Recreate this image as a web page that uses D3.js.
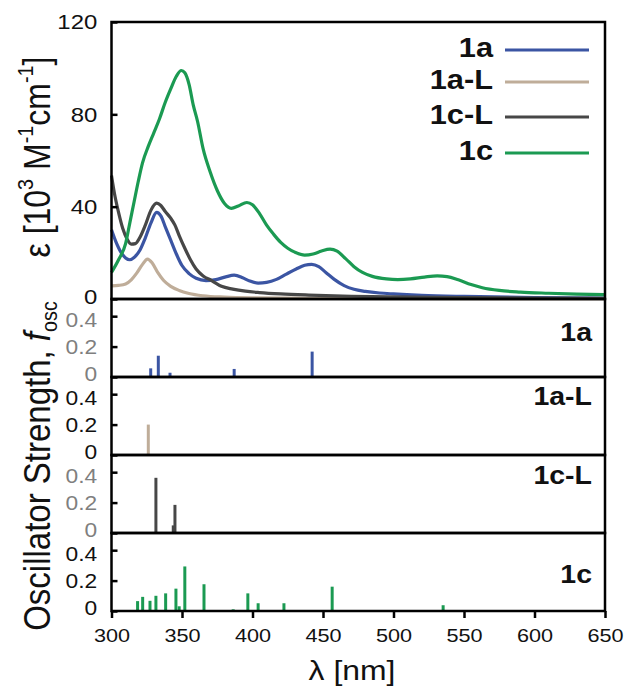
<!DOCTYPE html>
<html><head><meta charset="utf-8">
<script src="https://cdn.jsdelivr.net/npm/d3@7"></script>
<style>
body{margin:0;background:#fff;}
svg{display:block;font-family:"Liberation Sans",Arial,Helvetica,sans-serif;}
</style></head>
<body><svg id="chart" width="632" height="690"></svg>
<script>
// ---- data ----
const series = ["1a","1a-L","1c-L","1c"];
const colors = ["#3b55a3","#bfad99","#474747","#1b9a52"];

const nm_1a = [300,303,307,310,313,316,320,324,328,332,335,338,342,346,350,355,360,367,374,381,387,393,398,404,410,417,424,431,437,442,447,452,458,465,472,480,490,500,520,550,600,650];
const eps_1a = [30,25,20,17.8,17,18,21,26.5,33,37.5,36,31.5,25.5,19.5,14.5,11,9,8,8.4,9.6,10.3,9.2,7.8,6.9,7.2,8.5,10.8,13,14.6,15,14,11.5,8.5,5.8,4.2,3.3,2.6,2.2,1.6,1.1,0.6,0.4];

const nm_1aL = [300,305,310,314,318,322,325.5,329,333,337,342,348,355,365,380,400,450,650];
const eps_1aL = [5.7,5.9,6.5,8.3,11.3,15,17.3,15.5,11.3,8,5.5,3.7,2.4,1.4,0.8,0.5,0.3,0.1];

const nm_1cL = [300,302,305,308,311,314,317,320,324,328,332,335,338,342,345,348,352,356,360,365,371,378,386,395,405,420,440,470,500,550,600,650];
const eps_1cL = [53.5,46,37.5,30.5,26,23.8,24,26.5,32,38.5,41.5,40.5,38,35,32,27.5,22,17,13,10,8,5.5,4.3,3.4,2.8,2.2,1.7,1.2,0.9,0.6,0.4,0.3];

const nm_1c = [300,305,310,313,316,319,322,326,330,334,338,342,346,349.5,352,355,358,361,365,370,375,380,385,390,396,400,405,410,415,420,425,430,437,443,449,455,460,466,472,478,485,495,503,512,522,531,538,546,555,563,575,590,610,630,650];
const eps_1c = [11.5,17,24,33,42,51,59,66,72,78,85,91,96.5,99,98,93,84,77,65,55,47,41.5,39.3,40.3,41.8,40.8,37,32,28,24.5,22,20.3,19,19.5,20.8,21.6,20.7,17.5,14,11.5,9.8,8.7,8.4,8.7,9.5,10,9.7,8.3,6.3,4.9,3.7,3,2.5,2.1,1.9];

const stick_nm_1a = [327.8,333.2,341.5,387,389.5,442.3];
const stick_f_1a = [0.057,0.14,0.028,0.053,0.006,0.167];
const stick_nm_1aL = [326.1];
const stick_f_1aL = [0.2];
const stick_nm_1cL = [331.5,343.8,345];
const stick_f_1cL = [0.363,0.05,0.185];
const stick_nm_1c = [318.5,322.1,327.3,331.5,338.4,342.7,345.7,348,352,365.6,386.3,396.7,404,422.3,456.5,535.2];
const stick_f_1c = [0.065,0.093,0.067,0.1,0.116,0.005,0.147,0.031,0.293,0.176,0.011,0.116,0.051,0.051,0.16,0.038];

const xTicks = [300,350,400,450,500,550,600,650];
const epsTicks = [0,40,80,120];
const oscTicks = [0,0.2,0.4];
const oscLabelColors = ["#7f7f7f","#111","#7f7f7f","#111"];

// ---- layout ----
const SX = 1.14; // horizontal stretch of text
const svg = d3.select("#chart");
const L = 111.5, R = 605;
const x = d3.scaleLinear().domain([300,650]).range([L,R]);
const yE = d3.scaleLinear().domain([0,120]).range([299,22]);
const panelTops = [299,377,455,533];
const PH = 78;
const yS = panelTops.map(t => d3.scaleLinear().domain([0,0.513]).range([t+PH,t]));

const curves = [[nm_1a,eps_1a],[nm_1aL,eps_1aL],[nm_1cL,eps_1cL],[nm_1c,eps_1c]];
const sticks = [[stick_nm_1a,stick_f_1a],[stick_nm_1aL,stick_f_1aL],[stick_nm_1cL,stick_f_1cL],[stick_nm_1c,stick_f_1c]];

function stretch(sel){
  sel.attr("transform", "scale("+SX+",1)");
}

// curves
const line = d3.line().x(d=>x(d[0])).y(d=>yE(d[1])).curve(d3.curveMonotoneX);
const gc = svg.append("g");
curves.forEach((c,i)=>{
  const pts = c[0].map((v,j)=>[v,c[1][j]]);
  gc.append("path").attr("d",line(pts)).attr("fill","none")
    .attr("stroke",colors[i]).attr("stroke-width",3.2).attr("stroke-linejoin","round");
});

// sticks
sticks.forEach((s,i)=>{
  const g = svg.append("g");
  s[0].forEach((v,j)=>{
    g.append("line").attr("x1",x(v)).attr("x2",x(v))
      .attr("y1",yS[i](0)).attr("y2",yS[i](s[1][j]))
      .attr("stroke",colors[i]).attr("stroke-width",3);
  });
});

// left axes
const aE = svg.append("g").attr("transform","translate("+L+",0)")
  .call(d3.axisLeft(yE).tickValues(epsTicks).tickSize(-6).tickPadding(12.5).tickFormat(d3.format("d")));
aE.select(".domain").remove();
aE.selectAll(".tick line").attr("stroke","#000").attr("stroke-width",2.5);
aE.selectAll(".tick text").attr("font-size",21).attr("fill","#111").attr("font-family",null).call(stretch)
  .attr("y", d => d===0 ? -2 : 0);

yS.forEach((ys,i)=>{
  const a = svg.append("g").attr("transform","translate("+L+",0)")
    .call(d3.axisLeft(ys).tickValues(oscTicks).tickSize(-6).tickPadding(12.5).tickFormat(d=> d===0?"0":d3.format(".1f")(d)));
  a.select(".domain").remove();
  a.selectAll(".tick line").attr("stroke","#000").attr("stroke-width",2.5);
  a.selectAll(".tick text").attr("font-size",20).attr("fill",oscLabelColors[i]).attr("font-family",null).call(stretch)
    .attr("y", d => d===0 ? -3 : (d===0.4 ? 4 : 0));
});

// bottom axis
const aX = svg.append("g").attr("transform","translate(0,"+(panelTops[3]+PH)+")")
  .call(d3.axisBottom(x).tickValues(xTicks).tickSize(7).tickPadding(10.5).tickFormat(d3.format("d")));
aX.select(".domain").remove();
aX.selectAll(".tick line").attr("stroke","#000").attr("stroke-width",2.5);
aX.selectAll(".tick text").attr("font-size",19).attr("fill","#111").attr("font-family",null).call(stretch);

// frames
svg.append("rect").attr("x",L).attr("y",yE(120)).attr("width",R-L).attr("height",yE(0)-yE(120))
  .attr("fill","none").attr("stroke","#000").attr("stroke-width",2.5);
panelTops.forEach(t=>{
  svg.append("rect").attr("x",L).attr("y",t).attr("width",R-L).attr("height",PH)
    .attr("fill","none").attr("stroke","#000").attr("stroke-width",2.5);
});

// text helper
function label(px,py,rot,anchor){
  return svg.append("text").attr("transform","translate("+px+","+py+") scale("+SX+",1) rotate("+rot+")")
    .attr("text-anchor",anchor).attr("fill","#111");
}

// legend
const legY = [50,82,117,153];
series.forEach((s,i)=>{
  label(493,legY[i]+7,0,"end").attr("font-size",27).attr("font-weight","bold").text(s);
  svg.append("line").attr("x1",505).attr("x2",589).attr("y1",legY[i]).attr("y2",legY[i])
    .attr("stroke",colors[i]).attr("stroke-width",3.2);
});

// panel labels
const plY = [341,405,484,583];
series.forEach((s,i)=>{
  label(592,plY[i],0,"end").attr("font-size",25).attr("font-weight","bold").text(s);
});

// axis titles
const tE = label(50,157,-90,"middle").attr("font-size",32);
tE.append("tspan").text("\u03b5 [10");
tE.append("tspan").attr("font-size","0.62em").attr("dy","-0.75em").text("3");
tE.append("tspan").attr("dy","0.46em").text(" M");
tE.append("tspan").attr("font-size","0.62em").attr("dy","-0.75em").text("-1");
tE.append("tspan").attr("dy","0.46em").text("cm");
tE.append("tspan").attr("font-size","0.62em").attr("dy","-0.75em").text("-1");
tE.append("tspan").attr("dy","0.46em").text("]");

const tO = label(50,466,-90,"middle").attr("font-size",33);
tO.append("tspan").text("Oscillator Strength, ");
tO.append("tspan").attr("font-style","italic").text("f");
tO.append("tspan").attr("font-size","0.6em").attr("dy","0.3em").text("osc");

label(352,680,0,"middle").attr("font-size",28).text("\u03bb [nm]");
</script></body></html>
